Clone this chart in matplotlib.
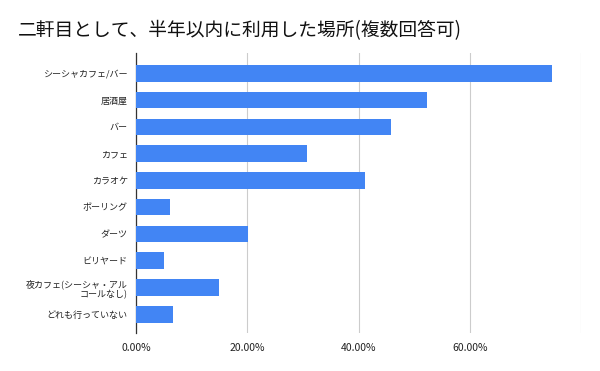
import matplotlib
matplotlib.use("Agg")
import matplotlib.pyplot as plt
from matplotlib.ticker import FuncFormatter

plt.rcParams['font.family'] = ['Noto Sans CJK JP', 'DejaVu Sans']

places = ["シーシャカフェ/バー", "居酒屋", "バー", "カフェ", "カラオケ", "ボーリング",
          "ダーツ", "ビリヤード", "夜カフェ(シーシャ・アル\nコールなし)", "どれも行っていない"]
shares = [74.7, 52.3, 45.9, 30.8, 41.1, 6.1, 20.1, 5.1, 15.0, 6.6]
ticks = [0, 20, 40, 60, 80]

fig = plt.figure(figsize=(6, 3.71), dpi=100)
ax = fig.add_axes([136 / 600, 1 - 333 / 371, 445 / 600, 280 / 371])

ax.barh(range(len(places)), shares, height=0.62, color="#4285F4", zorder=3)
ax.set_yticks(range(len(places)))
ax.set_yticklabels(places, fontsize=6.5, color="#222222", multialignment="right")
ax.set_ylim(9.7, -0.76)
ax.set_xlim(0, 80)
ax.set_xticks(ticks)
ax.xaxis.set_major_formatter(FuncFormatter(lambda v, p: "" if v == 80 else f"{v:.2f}%"))
ax.tick_params(axis="x", length=0, labelsize=7.5, pad=7, labelcolor="#222222")
ax.tick_params(axis="y", length=0, pad=6)
ax.grid(axis="x", color="#cccccc", linewidth=0.8, zorder=0)

for side in ["top", "right", "bottom"]:
    ax.spines[side].set_visible(False)
ax.spines["left"].set_color("#333333")
ax.spines["left"].set_linewidth(0.9)

fig.text(18 / 600, 1 - 31 / 371, "二軒目として、半年以内に利用した場所(複数回答可)",
         fontsize=13.5, va="center", ha="left", color="#111111")

fig.savefig("out.png", dpi=100)
